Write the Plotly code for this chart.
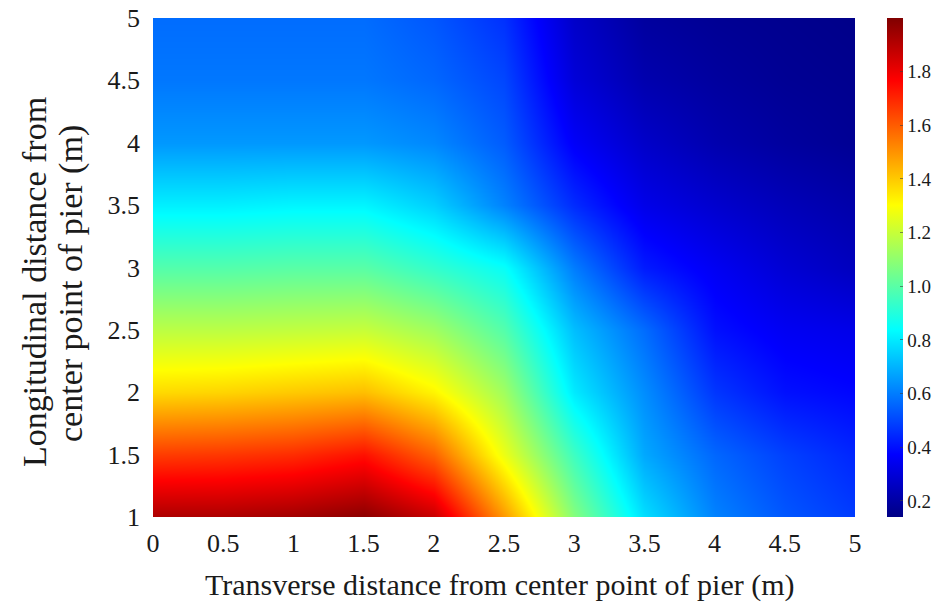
import plotly.graph_objects as go

# Grid coordinates (m)
x_vals = [0, 0.5, 1, 1.5, 2, 2.5, 3, 3.5, 4, 4.5, 5]
y_vals = [1, 1.5, 2, 2.5, 3, 3.5, 4, 4.5, 5]

# Values per x column (listed from y=1 upward to y=5)
col_x0 = [1.92, 1.66, 1.37, 1.18, 0.99, 0.81, 0.65, 0.59, 0.57]
col_x05 = [1.92, 1.67, 1.38, 1.18, 0.99, 0.81, 0.65, 0.59, 0.57]
col_x1 = [1.94, 1.69, 1.40, 1.19, 1.00, 0.82, 0.65, 0.59, 0.57]
col_x15 = [1.98, 1.74, 1.42, 1.20, 1.00, 0.82, 0.65, 0.59, 0.57]
col_x2 = [1.87, 1.59, 1.32, 1.13, 0.93, 0.75, 0.62, 0.56, 0.53]
col_x25 = [1.49, 1.27, 1.13, 0.99, 0.85, 0.61, 0.54, 0.50, 0.46]
col_x3 = [1.08, 0.95, 0.80, 0.72, 0.60, 0.45, 0.36, 0.30, 0.27]
col_x35 = [0.78, 0.68, 0.63, 0.57, 0.42, 0.33, 0.27, 0.22, 0.19]
col_x4 = [0.61, 0.56, 0.47, 0.40, 0.35, 0.28, 0.22, 0.19, 0.17]
col_x45 = [0.53, 0.49, 0.40, 0.35, 0.29, 0.24, 0.19, 0.17, 0.16]
col_x5 = [0.48, 0.44, 0.38, 0.33, 0.25, 0.21, 0.17, 0.16, 0.15]

columns = [col_x0, col_x05, col_x1, col_x15, col_x2, col_x25,
           col_x3, col_x35, col_x4, col_x45, col_x5]
z = [[columns[i][j] for i in range(len(x_vals))] for j in range(len(y_vals))]

cbar_ticks = [0.2, 0.4, 0.6, 0.8, 1.0, 1.2, 1.4, 1.6, 1.8]
x_ticks = [0, 0.5, 1, 1.5, 2, 2.5, 3, 3.5, 4, 4.5, 5]
y_ticks = [1, 1.5, 2, 2.5, 3, 3.5, 4, 4.5, 5]

x_title = "Transverse distance from center point of pier (m)"
y_title_lines = ["Longitudinal distance from", "center point of pier (m)"]

jet = [
    [0.0, "rgb(0,0,132)"],
    [0.125, "rgb(0,0,255)"],
    [0.375, "rgb(0,255,255)"],
    [0.625, "rgb(255,255,0)"],
    [0.875, "rgb(255,0,0)"],
    [1.0, "rgb(128,0,0)"],
]

FONT = "Liberation Serif, Times New Roman, serif"
TXT = "#1a1a1a"

fig = go.Figure(
    go.Heatmap(
        x=x_vals,
        y=y_vals,
        z=z,
        zsmooth="best",
        colorscale=jet,
        zmin=0.14,
        zmax=2.0,
        colorbar=dict(
            x=1.0456,
            xanchor="left",
            xpad=0,
            ypad=0,
            y=0.5,
            yanchor="middle",
            len=1.0,
            thickness=16,
            outlinewidth=0,
            tickvals=cbar_ticks,
            ticktext=[f"{v:.1f}" for v in cbar_ticks],
            ticks="inside",
            ticklen=3,
            tickcolor="rgba(60,60,60,0.6)",
            ticklabeloverflow="allow",
            tickfont=dict(family=FONT, size=19, color=TXT),
        ),
        hoverinfo="skip",
    )
)

# plot area on screen: 153..855 x 18..517
W_PLOT = 855 - 153
H_PLOT = 517 - 18

annotations = [
    dict(
        text=x_title, xref="paper", yref="paper",
        x=(500 - 153) / W_PLOT, y=(517 - 585) / H_PLOT,
        xanchor="center", yanchor="middle", showarrow=False,
        font=dict(family=FONT, size=30, color=TXT),
    ),
    dict(
        text=y_title_lines[0], xref="paper", yref="paper",
        x=(34 - 153) / W_PLOT, y=(517 - 282) / H_PLOT,
        xanchor="center", yanchor="middle", showarrow=False, textangle=-90,
        font=dict(family=FONT, size=34, color=TXT),
    ),
    dict(
        text=y_title_lines[1], xref="paper", yref="paper",
        x=(71 - 153) / W_PLOT, y=(517 - 284) / H_PLOT,
        xanchor="center", yanchor="middle", showarrow=False, textangle=-90,
        font=dict(family=FONT, size=34, color=TXT),
    ),
]

fig.update_layout(
    width=942,
    height=608,
    margin=dict(l=153, r=87, t=18, b=91, autoexpand=False),
    paper_bgcolor="white",
    plot_bgcolor="white",
    font=dict(family=FONT, color=TXT),
    annotations=annotations,
    xaxis=dict(
        range=[0, 5],
        tickvals=x_ticks,
        ticktext=[f"{v:g}" for v in x_ticks],
        ticks="",
        showgrid=False,
        zeroline=False,
        showline=False,
        automargin=False,
        ticklabeloverflow="allow",
        ticklabelstandoff=8,
        tickfont=dict(family=FONT, size=26),
    ),
    yaxis=dict(
        range=[1, 5],
        tickvals=y_ticks,
        ticktext=[f"{v:g}" for v in y_ticks],
        ticks="",
        showgrid=False,
        zeroline=False,
        showline=False,
        automargin=False,
        ticklabeloverflow="allow",
        ticklabelstandoff=12,
        tickfont=dict(family=FONT, size=26),
    ),
)

fig.write_html(
    "out.html",
    config={"displayModeBar": False},
    post_script="document.body.style.margin='0';document.body.style.overflow='hidden';",
)
